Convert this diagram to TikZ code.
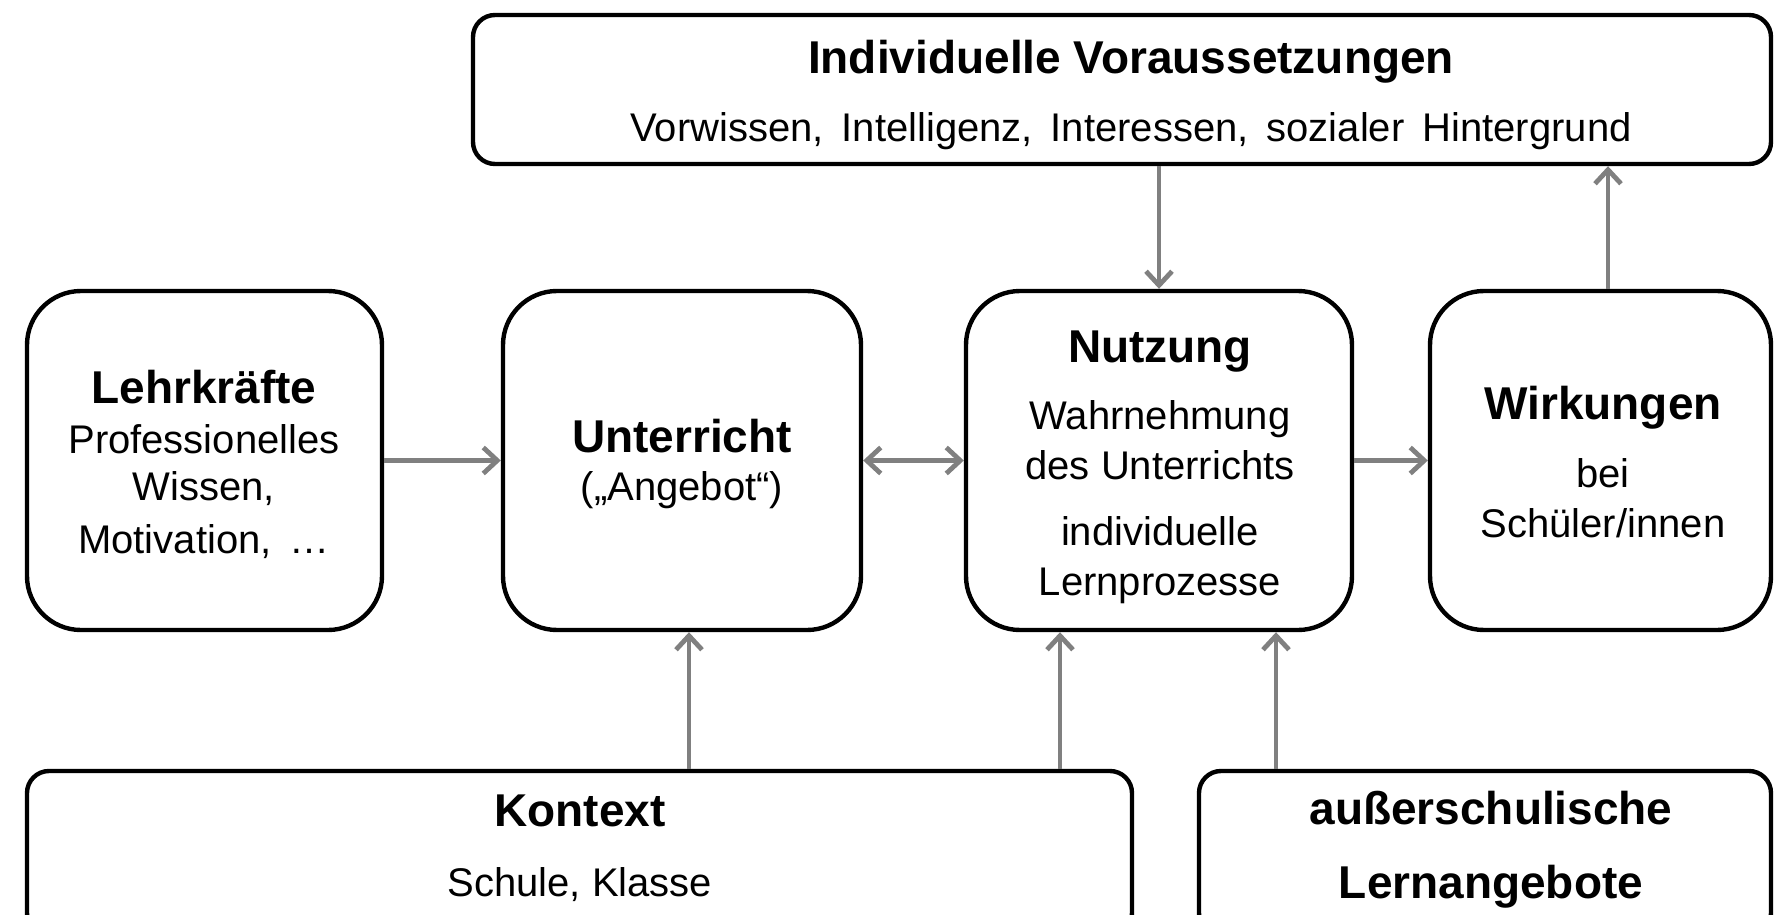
\documentclass[tikz,border=0pt]{standalone}
\usepackage{fontspec}
\setmainfont{Liberation Sans}
\usetikzlibrary{arrows.meta}
\definecolor{arrowgray}{RGB}{128,128,128}
\begin{document}
\begin{tikzpicture}[x=0.5pt,y=-0.5pt,
  box/.style={draw=black,line width=2.2pt,rectangle,inner sep=0pt},
  bigbox/.style={box,rounded corners=27pt,minimum height=169.5pt},
  flatbox/.style={box,rounded corners=11pt},
  head/.style={font=\fontsize{23}{27}\selectfont\bfseries,anchor=base,inner sep=0pt},
  body/.style={font=\fontsize{20}{24}\selectfont,anchor=base,inner sep=0pt},
  conn/.style={draw=arrowgray,line width=2.4pt,-{Straight Barb[length=7pt,width=13pt,line width=2.4pt]}},
  dconn/.style={draw=arrowgray,line width=2.4pt,{Straight Barb[length=7pt,width=13pt,line width=2.4pt]}-{Straight Barb[length=7pt,width=13pt,line width=2.4pt]}},
]
\useasboundingbox (0,0) rectangle (1774,915);
\clip (0,0) rectangle (1774,915);

% boxes
\node[flatbox,minimum width=649pt,minimum height=74.5pt] (vor) at (1122,89.5) {};
\node[bigbox,minimum width=177.5pt] (lehr) at (204.5,460.5) {};
\node[bigbox,minimum width=179pt] (unt) at (682,460.5) {};
\node[bigbox,minimum width=193pt] (nutz) at (1159,460.5) {};
\node[bigbox,minimum width=170.5pt] (wirk) at (1600.5,460.5) {};
\node[flatbox,minimum width=552.5pt,minimum height=82pt] (kon) at (579.5,853) {};
\node[flatbox,minimum width=286pt,minimum height=82pt] (aus) at (1485,853) {};

% texts
\node[head] (vortitle) at (1131,74) {Individuelle Voraussetzungen};
\node[body] (vortext) at (1131,142) {Vorwissen,\hspace{9pt}Intelligenz,\hspace{9pt}Interessen,\hspace{9pt}sozialer\hspace{9pt}Hintergrund};

\node[head] (lehrt) at (204,403) {Lehrkräfte};
\node[body] (lehr1) at (204,453) {Professionelles};
\node[body] (lehr2) at (204,500) {Wissen,};
\node[body] (lehr3) at (204,553) {Motivation,\hspace{9pt}…};

\node[head] (untt) at (682,452) {Unterricht};
\node[body] (unt1) at (682,500) {(„Angebot“)};

\node[head] (nutzt) at (1160,362) {Nutzung};
\node[body] (nutz1) at (1160,429) {Wahrnehmung};
\node[body] (nutz2) at (1160,479) {des Unterrichts};
\node[body] (nutz3) at (1160,545) {individuelle};
\node[body] (nutz4) at (1160,595) {Lernprozesse};

\node[head] (wirkt) at (1603,419) {Wirkungen};
\node[body] (wirk1) at (1603,487) {bei};
\node[body] (wirk2) at (1603,537) {Schüler/innen};

\node[head] (kont) at (580,826) {Kontext};
\node[body] (kon1) at (580,896) {Schule, Klasse};

\node[head] (aust) at (1491,824) {außerschulische};
\node[head] (aus1) at (1491,898) {Lernangebote};

% connectors
\draw[conn] (lehr.east) -- (unt.west);
\draw[dconn] (unt.east) -- (nutz.west);
\draw[conn] (nutz.east) -- (wirk.west);
\draw[conn] (vor.south -| nutz.north) -- (nutz.north);
\draw[conn] ([xshift=3.75pt]wirk.north) -- ([xshift=3.75pt]wirk.north |- vor.south);
\draw[conn] ([xshift=3.5pt]unt.south |- kon.north) -- ([xshift=3.5pt]unt.south);
\draw[conn] ([xshift=-49.5pt]nutz.south |- kon.north) -- ([xshift=-49.5pt]nutz.south);
\draw[conn] ([xshift=58.5pt]nutz.south |- aus.north) -- ([xshift=58.5pt]nutz.south);
\end{tikzpicture}
\end{document}
